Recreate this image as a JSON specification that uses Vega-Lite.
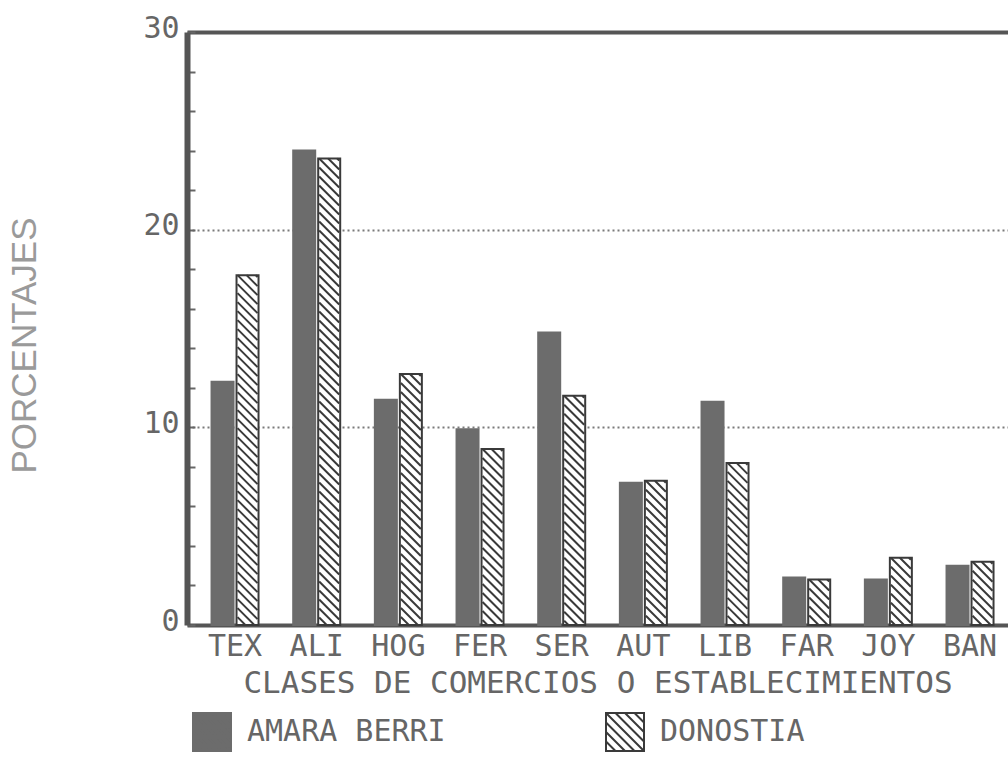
{
  "$schema": "https://vega.github.io/schema/vega-lite/v6.json",
  "autosize": {"type": "none"},
  "padding": {"left": 187, "top": 32, "right": 0, "bottom": 133},
  "width": 821,
  "height": 593,
  "background": "white",
  "config": {
    "view": {"stroke": null},
    "font": "DejaVu Sans Mono"
  },
  "data": {
    "values": [
      {"clase": "TEX", "serie": "AMARA BERRI", "pct": 12.3},
      {"clase": "TEX", "serie": "DONOSTIA", "pct": 17.7},
      {"clase": "ALI", "serie": "AMARA BERRI", "pct": 24.0},
      {"clase": "ALI", "serie": "DONOSTIA", "pct": 23.6},
      {"clase": "HOG", "serie": "AMARA BERRI", "pct": 11.4},
      {"clase": "HOG", "serie": "DONOSTIA", "pct": 12.7},
      {"clase": "FER", "serie": "AMARA BERRI", "pct": 9.9},
      {"clase": "FER", "serie": "DONOSTIA", "pct": 8.9},
      {"clase": "SER", "serie": "AMARA BERRI", "pct": 14.8},
      {"clase": "SER", "serie": "DONOSTIA", "pct": 11.6},
      {"clase": "AUT", "serie": "AMARA BERRI", "pct": 7.2},
      {"clase": "AUT", "serie": "DONOSTIA", "pct": 7.3},
      {"clase": "LIB", "serie": "AMARA BERRI", "pct": 11.3},
      {"clase": "LIB", "serie": "DONOSTIA", "pct": 8.2},
      {"clase": "FAR", "serie": "AMARA BERRI", "pct": 2.4},
      {"clase": "FAR", "serie": "DONOSTIA", "pct": 2.3},
      {"clase": "JOY", "serie": "AMARA BERRI", "pct": 2.3},
      {"clase": "JOY", "serie": "DONOSTIA", "pct": 3.4},
      {"clase": "BAN", "serie": "AMARA BERRI", "pct": 3.0},
      {"clase": "BAN", "serie": "DONOSTIA", "pct": 3.2}
    ]
  },
  "encoding": {
    "x": {
      "field": "clase",
      "type": "nominal",
      "sort": ["TEX", "ALI", "HOG", "FER", "SER", "AUT", "LIB", "FAR", "JOY", "BAN"],
      "scale": {"paddingInner": 0.4245, "paddingOuter": 0.2388, "align": 0.629, "round": false},
      "axis": {
        "title": "CLASES DE COMERCIOS O ESTABLECIMIENTOS",
        "labelAngle": 0,
        "ticks": false,
        "domainColor": "#555555",
        "domainWidth": 4,
        "labelFont": "DejaVu Sans Mono",
        "labelFontSize": 30,
        "labelColor": "#666666",
        "labelPadding": 6,
        "titleFont": "DejaVu Sans Mono",
        "titleFontSize": 31,
        "titleFontWeight": "normal",
        "titleColor": "#666666",
        "titlePadding": 7,
        "grid": false
      }
    },
    "xOffset": {
      "field": "serie",
      "type": "nominal",
      "scale": {"domain": ["AMARA BERRI", "DONOSTIA"], "paddingInner": 0.12, "paddingOuter": 0}
    },
    "y": {
      "field": "pct",
      "type": "quantitative",
      "scale": {"domain": [0, 30], "nice": false, "zero": true},
      "axis": {
        "title": "PORCENTAJES",
        "values": [0, 2, 4, 6, 8, 10, 12, 14, 16, 18, 20, 22, 24, 26, 28, 30],
        "labelExpr": "datum.value % 10 === 0 ? datum.label : ''",
        "tickSize": -8,
        "tickWidth": 2,
        "tickColor": "#666666",
        "domainColor": "#555555",
        "domainWidth": 6,
        "grid": true,
        "gridOpacity": {"condition": {"test": "datum.value === 10 || datum.value === 20 || datum.value === 30", "value": 1}, "value": 0},
        "gridColor": {"condition": {"test": "datum.value === 30", "value": "#555555"}, "value": "#7a7a7a"},
        "gridWidth": {"condition": {"test": "datum.value === 30", "value": 4}, "value": 2},
        "gridDash": {"condition": {"test": "datum.value === 30", "value": []}, "value": [2, 3]},
        "labelFont": "DejaVu Sans Mono",
        "labelFontSize": 30,
        "labelColor": "#666666",
        "labelPadding": 16,
        "labelOffset": -4,
        "titleFont": "Liberation Sans",
        "titleFontSize": 35,
        "titleFontWeight": "normal",
        "titleColor": "#9a9a9a",
        "titlePadding": 100,
        "titleY": 313
      }
    }
  },
  "layer": [
    {
      "mark": {"type": "bar", "strokeWidth": 2, "opacity": 1},
      "encoding": {
        "fill": {
          "field": "serie",
          "type": "nominal",
          "scale": {"domain": ["AMARA BERRI", "DONOSTIA"], "range": ["#6c6c6c", "#ffffff"]},
          "legend": {
            "title": null,
            "orient": "none",
            "legendX": 5,
            "legendY": 680,
            "direction": "horizontal",
            "columns": 2,
            "columnPadding": 156,
            "symbolType": "M-1,-1H1V1H-1Z M0.5,-1L1,-0.5 M0,-1L1,0 M-0.5,-1L1,0.5 M-1,-1L1,1 M-1,-0.5L0.5,1 M-1,0L0,1 M-1,0.5L-0.5,1",
            "symbolSize": 1444,
            "symbolStrokeWidth": 2,
            "symbolOpacity": 1,
            "labelFont": "DejaVu Sans Mono",
            "labelFontSize": 30,
            "labelColor": "#666666",
            "labelOffset": 15,
            "labelLimit": 0
          }
        },
        "stroke": {
          "field": "serie",
          "type": "nominal",
          "scale": {"domain": ["AMARA BERRI", "DONOSTIA"], "range": ["#6c6c6c", "#3a3a3a"]},
          "legend": {
            "title": null,
            "orient": "none",
            "legendX": 5,
            "legendY": 680,
            "direction": "horizontal",
            "columns": 2,
            "columnPadding": 156,
            "symbolType": "M-1,-1H1V1H-1Z M0.5,-1L1,-0.5 M0,-1L1,0 M-0.5,-1L1,0.5 M-1,-1L1,1 M-1,-0.5L0.5,1 M-1,0L0,1 M-1,0.5L-0.5,1",
            "symbolSize": 1444,
            "symbolStrokeWidth": 2,
            "symbolOpacity": 1,
            "labelFont": "DejaVu Sans Mono",
            "labelFontSize": 30,
            "labelColor": "#666666",
            "labelOffset": 15,
            "labelLimit": 0
          }
        }
      }
    },
    {
      "transform": [{"filter": "datum.serie === 'DONOSTIA'"}],
      "mark": {
        "type": "point",
        "filled": false,
        "clip": true,
        "opacity": 1,
        "size": 4,
        "stroke": "#3a3a3a",
        "strokeWidth": 2,
        "shape": "M8,0L10,2M-1,0L10,11M-10,0L10,20M-10,9L10,29M-10,18L10,38M-10,27L10,47M-10,36L10,56M-10,45L10,65M-10,54L10,74M-10,63L10,83M-10,72L10,92M-10,81L10,101M-10,90L10,110M-10,99L10,119M-10,108L10,128M-10,117L10,137M-10,126L10,146M-10,135L10,155M-10,144L10,164M-10,153L10,173M-10,162L10,182M-10,171L10,191M-10,180L10,200M-10,189L10,209M-10,198L10,218M-10,207L10,227M-10,216L10,236M-10,225L10,245M-10,234L10,254M-10,243L10,263M-10,252L10,272M-10,261L10,281M-10,270L10,290M-10,279L10,299M-10,288L10,308M-10,297L10,317M-10,306L10,326M-10,315L10,335M-10,324L10,344M-10,333L10,353M-10,342L10,362M-10,351L10,371M-10,360L10,380M-10,369L10,389M-10,378L10,398M-10,387L10,407M-10,396L10,416M-10,405L10,425M-10,414L10,434M-10,423L10,443M-10,432L10,452M-10,441L10,461M-10,450L10,470M-10,459L10,479M-10,468L10,488M-10,477L10,497M-10,486L10,506M-10,495L10,515M-10,504L10,524M-10,513L10,533M-10,522L10,542M-10,531L10,551M-10,540L10,560M-10,549L10,569M-10,558L10,578M-10,567L10,587M-10,576L10,596M-10,585L10,605"
      },
      "encoding": {}
    }
  ]
}
